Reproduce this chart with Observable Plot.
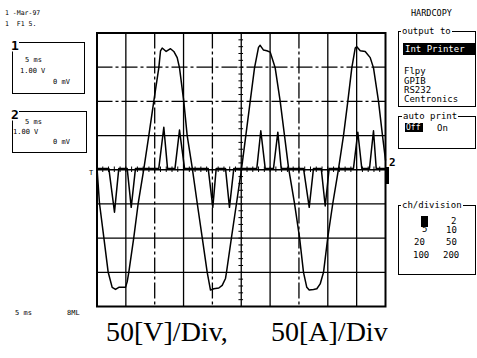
<!DOCTYPE html>
<html><head><meta charset="utf-8">
<script src="https://cdn.jsdelivr.net/npm/d3@7"></script>
<script src="https://cdn.jsdelivr.net/npm/@observablehq/plot@0.6"></script>
<style>
body{margin:0;background:#fff;}
#wrap{position:relative;width:477px;height:358px;overflow:hidden;background:#fff;}
#wrap svg{position:absolute;left:0;top:0;}
.t{position:absolute;font-family:"DejaVu Sans Mono",monospace;color:#000;line-height:1;white-space:pre;transform:translateY(-50%);}
.box{position:absolute;border:1.3px solid #000;box-sizing:border-box;}
.cap{position:absolute;font-family:"Liberation Serif","Times New Roman",serif;font-size:28px;line-height:1;white-space:pre;color:#000;}
</style></head><body><div id="wrap"></div><script>
// Time in ms (5 ms/div), voltage in V (50 V/div)
const voltT = [0,0.43,1.18,1.94,2.63,3.21,3.78,4.94,5.23,5.51,6.38,7.14,8.11,8.98,9.84,10.71,11.01,11.30,11.99,12.74,13.31,13.90,14.30,15.04,15.63,16.50,17.37,18.23,19.10,19.67,20.24,21.11,21.70,22.27,22.44,23.31,24.18,25.04,25.79,26.55,27.30,27.99,28.28,28.86,29.43,30.02,30.59,30.88,31.75,32.50,33.19,34.23,35.10,35.79,36.36,36.78,37.52,38.10,38.68,39.26,40.00,40.87,41.85,42.72,43.47,44.16,44.75,45.03,45.62,46.48,47.35,47.92,48.79,49.48,50];
const voltV = [3,-49,-99,-150,-172,-175,-172,-172,-164,-150,-99,-49,1,50,100,149,174,178,173,177,173,164,149,100,50,3,-49,-99,-150,-176,-174,-173,-169,-159,-150,-99,-49,1,50,100,149,179,182,175,174,172,157,149,100,50,3,-49,-99,-150,-172,-176,-175,-174,-167,-150,-99,-49,1,50,100,149,178,180,174,173,164,149,100,50,14];
// Current in A (50 A/div)
const currT = [0,2.05,3.03,3.78,5.23,5.93,6.67,10.71,11.58,12.22,13.52,14.30,15.17,19.27,20.07,20.66,22.27,22.96,23.71,27.70,28.39,29.15,30.59,31.34,31.92,35.79,36.78,37.52,38.86,39.55,40.24,44.45,45.20,45.89,47.23,47.92,48.39,50];
const currA = [2,2,-62,2,2,-55,2,2,62,2,2,58,2,2,-55,2,2,-55,2,2,57,2,2,55,2,2,-55,2,2,-53,2,2,55,2,2,57,2,2];
// Graticule
const gridTSolid = [5,15,25,30,40,45];
const gridTDash = [10,20,35];
const gridVSolid = [-150,-100,-50,0,50];
const gridVDash = [100,150];
const minorV = d3.range(-200, 201, 10);
const minorT = d3.range(0, 50.01, 1);

const volt = voltT.map((t,i)=>({t, v: voltV[i]}));
const curr = currT.map((t,i)=>({t, a: currA[i]}));

const chart = Plot.plot({
  width: 477, height: 358,
  marginLeft: 96.5, marginRight: 92, marginTop: 32.5, marginBottom: 52,
  x: {domain: [0, 50], axis: null},
  y: {domain: [-200, 200], axis: null},
  style: {background: "#fff"},
  marks: [
    Plot.ruleX(gridTSolid, {stroke: "#000", strokeWidth: 1.3}),
    Plot.ruleX(gridTDash, {stroke: "#000", strokeWidth: 1.3, strokeDasharray: "16,3,3,3"}),
    Plot.ruleY(gridVSolid, {stroke: "#000", strokeWidth: 1.3}),
    Plot.ruleY(gridVDash, {stroke: "#000", strokeWidth: 1.3, strokeDasharray: "16,3,3,3"}),
    Plot.ruleY(minorV, {x1: 24.6, x2: 25.4, stroke: "#000", strokeWidth: 1}),
    Plot.ruleX(minorT, {y1: -4, y2: 4, stroke: "#000", strokeWidth: 1}),
    Plot.frame({stroke: "#000", strokeWidth: 2}),
    Plot.line(curr, {x: "t", y: "a", stroke: "#000", strokeWidth: 1.5}),
    Plot.line(volt, {x: "t", y: "v", stroke: "#000", strokeWidth: 1.5})
  ]
});
const wrap = document.getElementById("wrap");
wrap.appendChild(chart);

function txt(s, x, y, size, extra) {
  const d = document.createElement("div");
  d.className = "t";
  d.textContent = s;
  d.style.left = x + "px"; d.style.top = y + "px";
  d.style.fontSize = size + "px";
  if (extra) Object.assign(d.style, extra);
  wrap.appendChild(d);
  return d;
}
function box(x, y, w, h, extra) {
  const d = document.createElement("div");
  d.className = "box";
  d.style.left = x + "px"; d.style.top = y + "px";
  d.style.width = w + "px"; d.style.height = h + "px";
  if (extra) Object.assign(d.style, extra);
  wrap.appendChild(d);
  return d;
}
const white = {background: "#fff", padding: "0 1px"};
const inv = {color: "#fff"};
// Left panel
txt("1 -Mar-97", 5, 13, 6.5);
txt("1  F1 5.", 5, 24, 6.5);
box(12, 42, 73, 52);
txt("1", 11, 45, 13, {fontWeight: "bold", background: "#fff"});
txt("5 ms", 25, 60, 7);
txt("1.00 V", 20, 71, 7);
txt("0 mV", 53, 82, 7);
box(12, 111, 75, 42);
txt("2", 11, 114, 13, {fontWeight: "bold", background: "#fff"});
txt("5 ms", 25, 122, 7);
txt("1.00 V", 13, 132, 7);
txt("0 mV", 53, 142, 7);
txt("T", 89, 173, 7);
txt("5 ms", 15, 313, 7);
txt("8ML", 67, 313, 7);
// Right panel
txt("HARDCOPY", 411, 13, 8.5);
box(398, 31, 78, 76);
txt("output to", 401, 31, 9, white);
box(403, 43, 72, 12, {background: "#000", border: "none"});
txt("Int Printer", 405, 49, 9, inv);
txt("Flpy", 404, 70.7, 9);
txt("GPIB", 404, 81, 9);
txt("RS232", 404, 89.5, 9);
txt("Centronics", 404, 99.3, 9);
box(398, 116, 78, 33);
txt("auto print", 402, 116, 9, white);
box(405, 123, 18, 9, {background: "#000", border: "none"});
txt("Off", 406, 127.5, 8, inv);
txt("On", 437, 127.5, 9);
box(398, 205, 78, 70);
txt("ch/division", 401, 205, 9, white);
box(421, 216, 7, 11, {background: "#000", border: "none"});
txt("2", 451, 221, 9);
txt("5", 422, 229, 9);
txt("10", 446, 230, 9);
txt("20", 414, 242, 9);
txt("50", 446, 242, 9);
txt("100", 413, 255, 9);
txt("200", 443, 255, 9);
// channel 2 marker at right edge
txt("2", 389, 162, 11, {fontWeight: "bold"});
box(386, 167, 3, 17, {background: "#000", border: "none"});
// caption
const c1 = document.createElement("div"); c1.className = "cap"; c1.textContent = "50[V]/Div,";
c1.style.left = "106px"; c1.style.top = "318px"; wrap.appendChild(c1);
const c2 = document.createElement("div"); c2.className = "cap"; c2.textContent = "50[A]/Div";
c2.style.left = "271px"; c2.style.top = "318px"; wrap.appendChild(c2);
</script></body></html>
